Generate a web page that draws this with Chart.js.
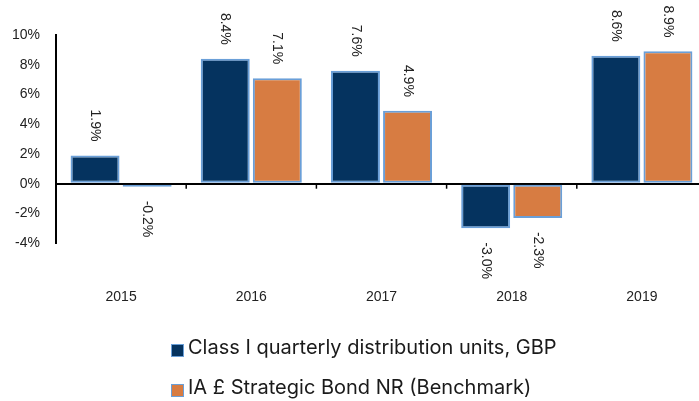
<!DOCTYPE html>
<html>
<head>
<meta charset="utf-8">
<script src="https://cdn.jsdelivr.net/npm/chart.js@4.4.1/dist/chart.umd.min.js"></script>
<style>
  html, body { margin: 0; padding: 0; background: #fff; overflow: hidden; }
  #wrap { position: relative; width: 712px; height: 401px; }
  #legend { position: absolute; left: 171px; top: 327px; font-family: Inter, "Noto Sans", sans-serif; font-size: 20px; color: #1a1a1a; }
  .item { display: flex; align-items: center; height: 40px; white-space: nowrap; }
  .box { width: 11px; height: 11px; margin-right: 4px; margin-top: 6px; border: 1.5px solid #6a9fd8; }
</style>
</head>
<body>
<div id="wrap">
  <canvas id="chart" width="712" height="401"></canvas>
  <div id="legend"></div>
</div>
<script>
// data
const years = ["2015", "2016", "2017", "2018", "2019"];
const fundName = "Class I quarterly distribution units, GBP";
const benchName = "IA £ Strategic Bond NR (Benchmark)";
const fundValues = [1.9, 8.4, 7.6, -3.0, 8.6];
const benchValues = [-0.2, 7.1, 4.9, -2.3, 8.9];
const yTicks = [-4, -2, 0, 2, 4, 6, 8, 10];

const navy = "#05335f";
const orange = "#d77c42";
const edge = "#6a9fd8";

// rotated value labels
const valueLabels = {
    id: "valueLabels",
    afterDatasetsDraw(chart) {
        const ctx = chart.ctx;
        ctx.save();
        ctx.font = "14px 'Liberation Sans', Arial, sans-serif";
        ctx.fillStyle = "#222";
        ctx.textBaseline = "middle";
        chart.data.datasets.forEach((ds, i) => {
            chart.getDatasetMeta(i).data.forEach((bar, j) => {
                const v = ds.data[j];
                ctx.save();
                if (v >= 0) {
                    ctx.translate(bar.x, bar.y - 14);
                    ctx.textAlign = "right";
                } else {
                    ctx.translate(bar.x, bar.y + 14);
                    ctx.textAlign = "left";
                }
                ctx.rotate(Math.PI / 2);
                ctx.fillText(v.toFixed(1) + "%", 0, 0);
                ctx.restore();
            });
        });
        ctx.restore();
    }
};

// little tick marks between categories on the zero line
const catTicks = {
    id: "catTicks",
    afterDraw(chart) {
        const x = chart.scales.x, y = chart.scales.y;
        const y0 = y.getPixelForValue(0);
        const ctx = chart.ctx;
        ctx.save();
        ctx.strokeStyle = "#000";
        ctx.lineWidth = 1.5;
        for (let i = 1; i < years.length; i++) {
            const px = (x.getPixelForValue(i - 1) + x.getPixelForValue(i)) / 2;
            ctx.beginPath();
            ctx.moveTo(px, y0);
            ctx.lineTo(px, y0 + 5);
            ctx.stroke();
        }
        ctx.restore();
    }
};

const chart = new Chart(document.getElementById("chart"), {
    type: "bar",
    data: {
        labels: years,
        datasets: [
            {
                label: fundName,
                data: fundValues,
                backgroundColor: navy,
                borderColor: edge,
                borderWidth: 2,
                borderSkipped: false
            },
            {
                label: benchName,
                data: benchValues,
                backgroundColor: orange,
                borderColor: edge,
                borderWidth: 2,
                borderSkipped: false
            }
        ]
    },
    options: {
        responsive: false,
        animation: false,
        layout: { padding: { top: 35, right: 5, bottom: 57, left: 0 } },
        datasets: { bar: { categoryPercentage: 0.8, barPercentage: 0.94 } },
        plugins: { legend: { display: false }, tooltip: { enabled: false } },
        scales: {
            x: {
                grid: { display: false },
                border: { display: false },
                ticks: {
                    padding: 38,
                    color: "#222",
                    font: { family: "'Liberation Sans', Arial, sans-serif", size: 14 }
                }
            },
            y: {
                min: -4,
                max: 10,
                afterBuildTicks(s) { s.ticks = yTicks.map(v => ({ value: v })); },
                afterFit(s) { s.width = 56; },
                border: { display: true, color: "#000", width: 2 },
                grid: {
                    drawTicks: false,
                    lineWidth: 2,
                    color: c => (c.tick && c.tick.value === 0 ? "#000" : "rgba(0,0,0,0)")
                },
                ticks: {
                    padding: 16,
                    color: "#222",
                    font: { family: "'Liberation Sans', Arial, sans-serif", size: 14 },
                    callback: v => v + "%"
                }
            }
        }
    },
    plugins: [valueLabels, catTicks]
});

// legend from the chart's datasets
const legend = document.getElementById("legend");
chart.data.datasets.forEach(ds => {
    const row = document.createElement("div");
    row.className = "item";
    const box = document.createElement("span");
    box.className = "box";
    box.style.background = ds.backgroundColor;
    const txt = document.createElement("span");
    txt.textContent = ds.label;
    row.appendChild(box);
    row.appendChild(txt);
    legend.appendChild(row);
});
</script>
</body>
</html>
